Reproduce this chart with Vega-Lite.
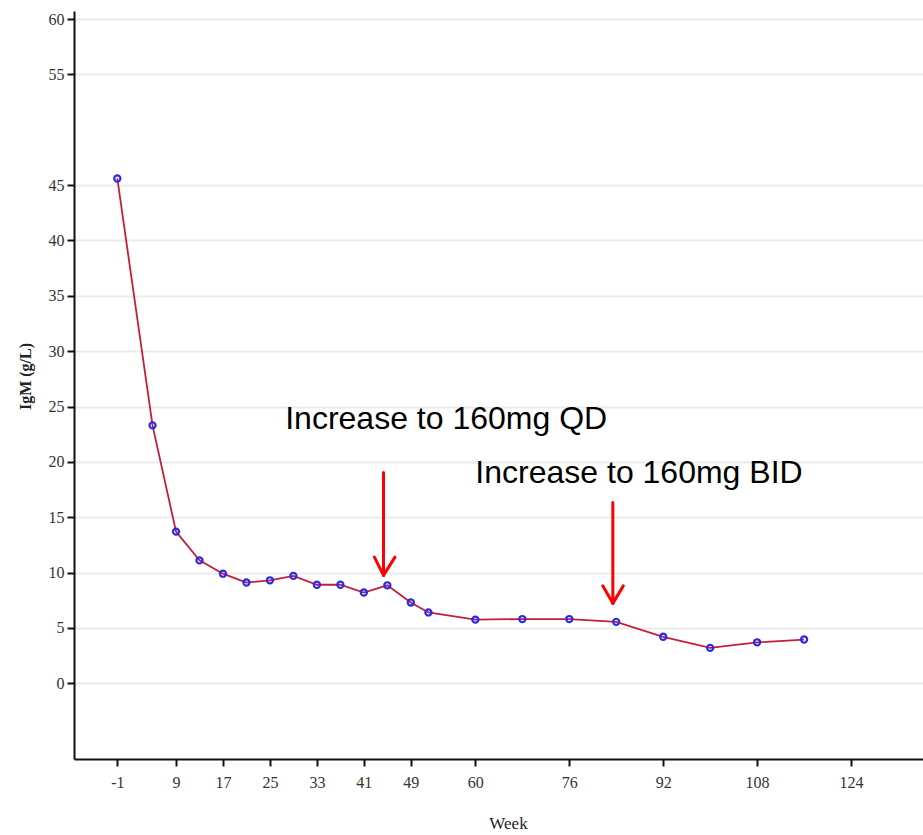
{
  "$schema": "https://vega.github.io/schema/vega-lite/v6.json",
  "width": 849,
  "height": 748,
  "autosize": {"type": "none"},
  "padding": {"left": 74, "top": 11, "right": 0, "bottom": 76},
  "background": "white",
  "config": {
    "view": {"stroke": null},
    "axis": {
      "labelFont": "Liberation Serif",
      "labelFontSize": 16,
      "labelColor": "#333333",
      "titleFont": "Liberation Serif",
      "titleColor": "#222222",
      "domainColor": "#111111",
      "domainWidth": 2,
      "tickColor": "#111111",
      "tickWidth": 2,
      "tickSize": 7
    }
  },
  "datasets": {
    "igm": [
      {"week": -1, "igm": 45.6},
      {"week": 5, "igm": 23.3},
      {"week": 9, "igm": 13.7},
      {"week": 13, "igm": 11.1},
      {"week": 17, "igm": 9.9},
      {"week": 21, "igm": 9.1},
      {"week": 25, "igm": 9.3},
      {"week": 29, "igm": 9.7},
      {"week": 33, "igm": 8.9},
      {"week": 37, "igm": 8.9},
      {"week": 41, "igm": 8.2},
      {"week": 45, "igm": 8.85},
      {"week": 49, "igm": 7.3},
      {"week": 52, "igm": 6.4},
      {"week": 60, "igm": 5.75},
      {"week": 68, "igm": 5.8},
      {"week": 76, "igm": 5.8},
      {"week": 84, "igm": 5.55},
      {"week": 92, "igm": 4.2},
      {"week": 100, "igm": 3.2},
      {"week": 108, "igm": 3.7},
      {"week": 116, "igm": 3.95}
    ],
    "arrows": [
      {"x": 44.35, "y": 19.04, "x2": 44.35, "y2": 9.75},
      {"x": 42.8, "y": 11.4, "x2": 44.35, "y2": 9.75},
      {"x": 46.3, "y": 11.4, "x2": 44.35, "y2": 9.75},
      {"x": 83.42, "y": 16.34, "x2": 83.42, "y2": 7.22},
      {"x": 81.7, "y": 8.8, "x2": 83.42, "y2": 7.22},
      {"x": 85.2, "y": 8.8, "x2": 83.42, "y2": 7.22}
    ],
    "labels": [
      {"x": 27.6, "y": 23.0, "text": "Increase to 160mg QD"},
      {"x": 60.0, "y": 18.05, "text": "Increase to 160mg BID"}
    ]
  },
  "layer": [
    {
      "data": {"name": "igm"},
      "mark": {"type": "line", "color": "#c41e3a", "strokeWidth": 1.8},
      "encoding": {
        "x": {
          "field": "week", "type": "quantitative",
          "scale": {"domain": [-8.38, 136.26], "nice": false, "zero": false},
          "axis": {
            "values": [-1, 9, 17, 25, 33, 41, 49, 60, 76, 92, 108, 124],
            "labelExpr": "'' + datum.value",
            "grid": false,
            "title": "Week",
            "titleFontSize": 17,
            "titleFontWeight": "normal",
            "titleX": 434,
            "titleY": 64,
            "titleBaseline": "middle",
            "labelPadding": 8
          }
        },
        "y": {
          "field": "igm", "type": "quantitative",
          "scale": {"domain": [-6.84, 60.73], "nice": false, "zero": false},
          "axis": {
            "values": [0, 5, 10, 15, 20, 25, 30, 35, 40, 45, 55, 60],
            "grid": true,
            "gridColor": "#ebebeb",
            "gridWidth": 2,
            "title": "IgM (g/L)",
            "titleFontSize": 16,
            "titleFontWeight": "bold",
            "titleX": -49,
            "titleY": 365,
            "titleBaseline": "middle",
            "titleAlign": "center",
            "labelPadding": 3
          }
        }
      }
    },
    {
      "data": {"name": "igm"},
      "mark": {"type": "point", "shape": "circle", "filled": false, "color": "#2a2ae8", "strokeWidth": 2.2, "size": 38, "opacity": 1},
      "encoding": {
        "x": {"field": "week", "type": "quantitative"},
        "y": {"field": "igm", "type": "quantitative"}
      }
    },
    {
      "data": {"name": "arrows"},
      "mark": {"type": "rule", "color": "#ff0000", "strokeWidth": 3, "strokeCap": "round"},
      "encoding": {
        "x": {"field": "x", "type": "quantitative"},
        "y": {"field": "y", "type": "quantitative"},
        "x2": {"field": "x2"},
        "y2": {"field": "y2"}
      }
    },
    {
      "data": {"name": "labels"},
      "mark": {"type": "text", "font": "Liberation Sans", "fontSize": 32, "align": "left", "baseline": "alphabetic", "color": "#000000"},
      "encoding": {
        "x": {"field": "x", "type": "quantitative"},
        "y": {"field": "y", "type": "quantitative"},
        "text": {"field": "text"}
      }
    }
  ]
}
